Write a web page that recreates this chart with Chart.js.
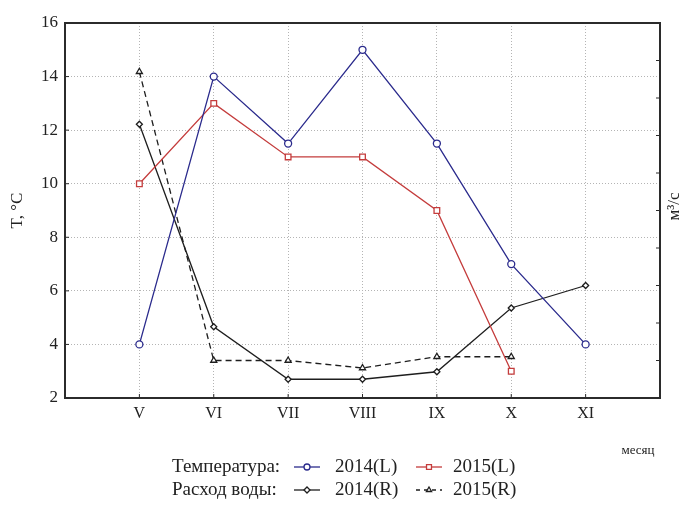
<!DOCTYPE html>
<html>
<head>
<meta charset="utf-8">
<script src="https://cdn.jsdelivr.net/npm/chart.js@4/dist/chart.umd.min.js"></script>
<style>
  html, body { margin: 0; padding: 0; background: #fff; }
  #wrap { width: 688px; height: 514px; }
</style>
</head>
<body>
<div id="wrap"><canvas id="chart" width="688" height="514"></canvas></div>
<script>
// months on the x axis
var months = ['V', 'VI', 'VII', 'VIII', 'IX', 'X', 'XI'];

// air temperature, °C (left axis)
var temp2014 = [4, 14, 11.5, 15, 11.5, 7, 4];
var temp2015 = [10, 13, 11, 11, 9, 3, null];

// water discharge (right axis, unlabelled)
var flow2014 = [7.3, 1.9, 0.5, 0.5, 0.7, 2.4, 3.0];
var flow2015 = [8.7, 1.0, 1.0, 0.8, 1.1, 1.1, null];

var leftTicks = [2, 4, 6, 8, 10, 12, 14, 16];

var SERIF = "'Liberation Serif', 'Times New Roman', serif";
var BLUE = '#2a2a8c';
var RED = '#c43c3c';
var BLACK = '#1e1e1e';
var GRID = '#b4b4b4';

function toPoints(arr) {
    var pts = [];
    arr.forEach(function (v, i) {
        if (v !== null) pts.push({ x: i, y: v });
    });
    return pts;
}

// frame, inward tick marks, axis titles and the two-row legend
var decor = {
    id: 'decor',
    beforeDatasetsDraw: function (chart) {
        var ctx = chart.ctx;
        var a = chart.chartArea;
        var xs = chart.scales.x, yl = chart.scales.y, yr = chart.scales.y2;
        ctx.save();
        ctx.strokeStyle = '#2b2b2b';
        ctx.lineWidth = 2;
        ctx.strokeRect(a.left, a.top, a.right - a.left, a.bottom - a.top);
        ctx.lineWidth = 1;
        ctx.beginPath();
        xs.ticks.forEach(function (t) {
            var px = xs.getPixelForValue(t.value);
            ctx.moveTo(px, a.bottom);
            ctx.lineTo(px, a.bottom - 4);
        });
        yl.ticks.forEach(function (t) {
            var py = yl.getPixelForValue(t.value);
            ctx.moveTo(a.left, py);
            ctx.lineTo(a.left + 4, py);
        });
        yr.ticks.forEach(function (t) {
            var py = yr.getPixelForValue(t.value);
            ctx.moveTo(a.right, py);
            ctx.lineTo(a.right - 4, py);
        });
        ctx.stroke();
        ctx.restore();
    },
    afterDraw: function (chart) {
        var ctx = chart.ctx;
        var a = chart.chartArea;
        var midY = (a.top + a.bottom) / 2;
        ctx.save();
        ctx.fillStyle = '#222';
        ctx.textBaseline = 'middle';
        ctx.textAlign = 'center';

        ctx.font = '17px ' + SERIF;
        ctx.save();
        ctx.translate(18, midY);
        ctx.rotate(-Math.PI / 2);
        ctx.fillText('T, °C', 0, 0);
        ctx.restore();

        ctx.save();
        ctx.translate(675, midY - 4);
        ctx.rotate(-Math.PI / 2);
        ctx.fillText('м³/с', 0, 0);
        ctx.restore();

        ctx.font = '13px ' + SERIF;
        ctx.fillText('месяц', 638, 451);

        // legend
        ctx.font = '19px ' + SERIF;
        ctx.textAlign = 'left';
        var rows = [
            { y: 467, title: 'Температура:', items: [
                { text: '2014(L)', color: BLUE, style: 'circle', r: 3, dash: [] },
                { text: '2015(L)', color: RED, style: 'rect', r: 3.5, dash: [] }
            ] },
            { y: 490, title: 'Расход воды:', items: [
                { text: '2014(R)', color: BLACK, style: 'rectRot', r: 3, dash: [] },
                { text: '2015(R)', color: BLACK, style: 'triangle', r: 3, dash: [4, 4] }
            ] }
        ];
        var markX = [307, 429];
        var textX = [335, 453];
        rows.forEach(function (row) {
            ctx.fillStyle = '#222';
            ctx.fillText(row.title, 172, row.y);
            row.items.forEach(function (it, k) {
                var cx = markX[k];
                ctx.strokeStyle = it.color;
                ctx.lineWidth = 1.3;
                ctx.setLineDash(it.dash);
                ctx.beginPath();
                ctx.moveTo(cx - 13, row.y);
                ctx.lineTo(cx + 13, row.y);
                ctx.stroke();
                ctx.setLineDash([]);
                ctx.fillStyle = '#fff';
                Chart.helpers.drawPoint(ctx, { pointStyle: it.style, radius: it.r, rotation: 0, borderWidth: 1.3 }, cx, row.y);
                ctx.fillStyle = '#222';
                ctx.fillText(it.text, textX[k], row.y);
            });
        });
        ctx.restore();
    }
};

function lineSet(label, data, axis, color, style, radius, dash) {
    return {
        label: label,
        data: toPoints(data),
        yAxisID: axis,
        borderColor: color,
        borderWidth: 1.3,
        borderDash: dash,
        pointStyle: style,
        pointRadius: radius,
        pointBorderColor: color,
        pointBackgroundColor: '#fff',
        pointBorderWidth: 1.3,
        tension: 0,
        fill: false
    };
}

var chart = new Chart(document.getElementById('chart'), {
    type: 'line',
    data: {
        datasets: [
            lineSet('2014(L)', temp2014, 'y', BLUE, 'circle', 3.5, []),
            lineSet('2015(L)', temp2015, 'y', RED, 'rect', 4, []),
            lineSet('2014(R)', flow2014, 'y2', BLACK, 'rectRot', 3, []),
            lineSet('2015(R)', flow2015, 'y2', BLACK, 'triangle', 3.5, [6, 4])
        ]
    },
    options: {
        responsive: false,
        animation: false,
        layout: { padding: { top: 23, left: 0, right: 0, bottom: 0 } },
        plugins: {
            legend: { display: false },
            tooltip: { enabled: false }
        },
        scales: {
            x: {
                type: 'linear',
                min: -1,
                max: 7,
                afterBuildTicks: function (scale) {
                    scale.ticks = months.map(function (m, i) { return { value: i }; });
                },
                afterFit: function (scale) { scale.height = 116; },
                ticks: {
                    callback: function (v) { return months[v]; },
                    font: { family: SERIF, size: 16 },
                    color: '#222',
                    padding: 6,
                    maxRotation: 0
                },
                grid: { color: GRID, drawTicks: false },
                border: { display: false, dash: [1, 2] }
            },
            y: {
                position: 'left',
                min: 2,
                max: 16,
                afterBuildTicks: function (scale) {
                    scale.ticks = leftTicks.map(function (v) { return { value: v }; });
                },
                afterFit: function (scale) { scale.width = 65; },
                ticks: {
                    font: { family: SERIF, size: 17 },
                    color: '#222',
                    padding: 7
                },
                grid: { color: GRID, drawTicks: false },
                border: { display: false, dash: [1, 2] }
            },
            y2: {
                position: 'right',
                min: 0,
                max: 10,
                ticks: { display: false, stepSize: 1 },
                afterFit: function (scale) { scale.width = 28; },
                grid: { drawOnChartArea: false, drawTicks: false },
                border: { display: false }
            }
        }
    },
    plugins: [decor]
});
</script>
</body>
</html>
